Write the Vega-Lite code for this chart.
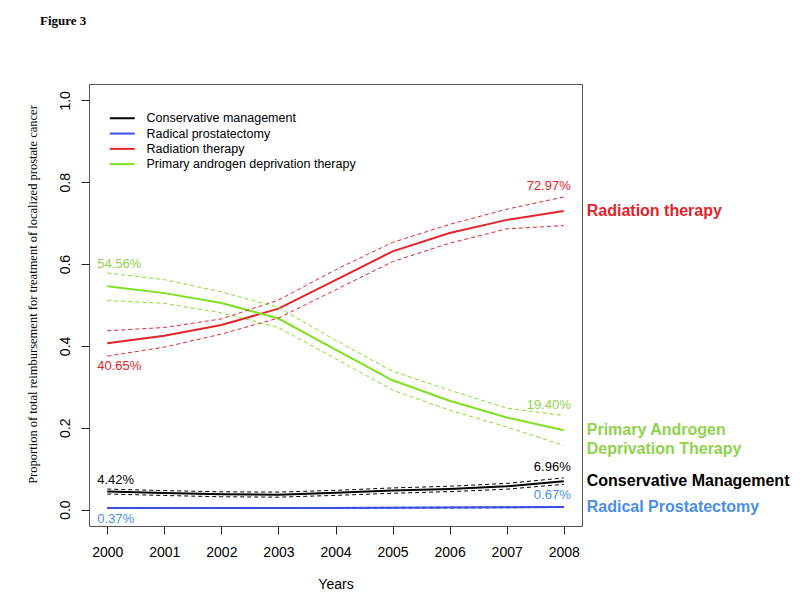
{
  "$schema": "https://vega.github.io/schema/vega-lite/v6.json",
  "width": 493,
  "height": 442,
  "autosize": {"type": "none"},
  "padding": {"left": 89, "top": 84, "right": 218, "bottom": 74},
  "background": "white",
  "config": {
    "view": {"stroke": "#555555", "strokeWidth": 1},
    "font": "Liberation Sans"
  },
  "title": {
    "text": "Figure 3",
    "anchor": "start",
    "frame": "group",
    "dx": -49,
    "offset": 56,
    "font": "Liberation Serif",
    "fontSize": 13,
    "fontWeight": "bold",
    "color": "black"
  },
  "datasets": {
    "rates": [
      {"series": "Conservative management", "year": 2000, "est": 0.0442, "lo": 0.0382, "hi": 0.0502},
      {"series": "Conservative management", "year": 2001, "est": 0.0405, "lo": 0.0345, "hi": 0.0465},
      {"series": "Conservative management", "year": 2002, "est": 0.0375, "lo": 0.0315, "hi": 0.0435},
      {"series": "Conservative management", "year": 2003, "est": 0.0365, "lo": 0.0305, "hi": 0.0428},
      {"series": "Conservative management", "year": 2004, "est": 0.0410, "lo": 0.0348, "hi": 0.0472},
      {"series": "Conservative management", "year": 2005, "est": 0.0465, "lo": 0.0400, "hi": 0.0530},
      {"series": "Conservative management", "year": 2006, "est": 0.0505, "lo": 0.0440, "hi": 0.0572},
      {"series": "Conservative management", "year": 2007, "est": 0.0570, "lo": 0.0500, "hi": 0.0640},
      {"series": "Conservative management", "year": 2008, "est": 0.0696, "lo": 0.0618, "hi": 0.0775},
      {"series": "Radical prostatectomy", "year": 2000, "est": 0.0037, "lo": 0.0025, "hi": 0.0049},
      {"series": "Radical prostatectomy", "year": 2001, "est": 0.0038, "lo": 0.0026, "hi": 0.0050},
      {"series": "Radical prostatectomy", "year": 2002, "est": 0.0039, "lo": 0.0027, "hi": 0.0051},
      {"series": "Radical prostatectomy", "year": 2003, "est": 0.0040, "lo": 0.0028, "hi": 0.0052},
      {"series": "Radical prostatectomy", "year": 2004, "est": 0.0042, "lo": 0.0030, "hi": 0.0054},
      {"series": "Radical prostatectomy", "year": 2005, "est": 0.0045, "lo": 0.0033, "hi": 0.0057},
      {"series": "Radical prostatectomy", "year": 2006, "est": 0.0050, "lo": 0.0037, "hi": 0.0063},
      {"series": "Radical prostatectomy", "year": 2007, "est": 0.0057, "lo": 0.0044, "hi": 0.0070},
      {"series": "Radical prostatectomy", "year": 2008, "est": 0.0067, "lo": 0.0054, "hi": 0.0080},
      {"series": "Radiation therapy", "year": 2000, "est": 0.4065, "lo": 0.375, "hi": 0.437},
      {"series": "Radiation therapy", "year": 2001, "est": 0.425, "lo": 0.397, "hi": 0.445},
      {"series": "Radiation therapy", "year": 2002, "est": 0.451, "lo": 0.429, "hi": 0.466},
      {"series": "Radiation therapy", "year": 2003, "est": 0.491, "lo": 0.468, "hi": 0.512},
      {"series": "Radiation therapy", "year": 2004, "est": 0.561, "lo": 0.537, "hi": 0.586},
      {"series": "Radiation therapy", "year": 2005, "est": 0.631, "lo": 0.606, "hi": 0.653},
      {"series": "Radiation therapy", "year": 2006, "est": 0.676, "lo": 0.651, "hi": 0.697},
      {"series": "Radiation therapy", "year": 2007, "est": 0.708, "lo": 0.686, "hi": 0.734},
      {"series": "Radiation therapy", "year": 2008, "est": 0.7297, "lo": 0.694, "hi": 0.764},
      {"series": "Primary androgen deprivation therapy", "year": 2000, "est": 0.5456, "lo": 0.511, "hi": 0.578},
      {"series": "Primary androgen deprivation therapy", "year": 2001, "est": 0.529, "lo": 0.504, "hi": 0.562},
      {"series": "Primary androgen deprivation therapy", "year": 2002, "est": 0.505, "lo": 0.481, "hi": 0.532},
      {"series": "Primary androgen deprivation therapy", "year": 2003, "est": 0.467, "lo": 0.445, "hi": 0.494},
      {"series": "Primary androgen deprivation therapy", "year": 2004, "est": 0.391, "lo": 0.369, "hi": 0.414},
      {"series": "Primary androgen deprivation therapy", "year": 2005, "est": 0.316, "lo": 0.292, "hi": 0.338},
      {"series": "Primary androgen deprivation therapy", "year": 2006, "est": 0.266, "lo": 0.243, "hi": 0.292},
      {"series": "Primary androgen deprivation therapy", "year": 2007, "est": 0.225, "lo": 0.202, "hi": 0.248},
      {"series": "Primary androgen deprivation therapy", "year": 2008, "est": 0.1940, "lo": 0.157, "hi": 0.230}
    ],
    "ends": [
      {"series": "Conservative management", "label": "Conservative Management"},
      {"series": "Radical prostatectomy", "label": "Radical Prostatectomy"},
      {"series": "Radiation therapy", "label": "Radiation therapy"},
      {"series": "Primary androgen deprivation therapy", "label": "Primary Androgen\nDeprivation Therapy"}
    ]
  },
  "data": {"name": "rates"},
  "encoding": {
    "x": {
      "field": "year",
      "type": "quantitative",
      "scale": {"domain": [1999.68, 2008.32], "nice": false, "zero": false},
      "axis": {
        "title": "Years",
        "values": [2000, 2001, 2002, 2003, 2004, 2005, 2006, 2007, 2008],
        "format": "d",
        "grid": false,
        "domain": false,
        "tickSize": 8,
        "tickColor": "#222222",
        "labelPadding": 11,
        "labelFontSize": 14,
        "labelColor": "black",
        "labelFont": "Liberation Sans",
        "titleFont": "Liberation Sans",
        "titleFontSize": 14,
        "titleFontWeight": "normal",
        "titleColor": "black",
        "titlePadding": 18
      }
    }
  },
  "layer": [
    {
      "mark": {"type": "line", "strokeWidth": 2},
      "encoding": {
        "y": {
          "field": "est",
          "type": "quantitative",
          "scale": {"domain": [-0.04, 1.04], "nice": false, "zero": false},
          "axis": {
            "title": "Proportion of total  reimbursement for treatment of localized prostate cancer",
            "values": [0, 0.2, 0.4, 0.6, 0.8, 1.0],
            "format": ".1f",
            "grid": false,
            "domain": false,
            "tickSize": 8,
            "tickColor": "#222222",
            "labelAngle": 270,
            "labelAlign": "center",
            "labelBaseline": "bottom",
            "labelPadding": 9,
            "labelFontSize": 14,
            "labelColor": "black",
            "labelFont": "Liberation Sans",
            "titleFont": "Liberation Serif",
            "titleFontSize": 12.5,
            "titleFontWeight": "normal",
            "titleColor": "black",
            "titlePadding": 19,
            "titleY": 210
          }
        },
        "stroke": {
          "field": "series",
          "type": "nominal",
          "scale": {
            "domain": ["Conservative management", "Radical prostatectomy", "Radiation therapy", "Primary androgen deprivation therapy"],
            "range": ["#000000", "#3a4ee4", "#e2242a", "#7ee022"]
          },
          "legend": {
            "title": null,
            "orient": "none",
            "legendX": 27,
            "legendY": 28,
            "padding": 0,
            "symbolType": "M-2.5,0L2.5,0",
            "symbolSize": 100,
            "symbolStrokeWidth": 2,
            "symbolOffset": 0,
            "labelOffset": 18,
            "rowPadding": 2.3,
            "labelFont": "Liberation Sans",
            "labelFontSize": 12.5,
            "labelColor": "black",
            "labelLimit": 400
          }
        }
      }
    },
    {
      "mark": {"type": "line", "strokeWidth": 1, "strokeDash": [4, 3]},
      "encoding": {
        "y": {"field": "lo", "type": "quantitative"},
        "stroke": {"field": "series", "type": "nominal", "legend": null}
      }
    },
    {
      "mark": {"type": "line", "strokeWidth": 1, "strokeDash": [4, 3]},
      "encoding": {
        "y": {"field": "hi", "type": "quantitative"},
        "stroke": {"field": "series", "type": "nominal", "legend": null}
      }
    },
    {
      "transform": [{"filter": "datum.year == 2008"}],
      "mark": {"type": "text", "align": "right", "baseline": "middle", "dx": 7, "dy": -11, "fontSize": 13},
      "encoding": {
        "y": {"field": "hi", "type": "quantitative"},
        "text": {"field": "est", "type": "quantitative", "format": ".2%"},
        "fill": {
          "field": "series",
          "type": "nominal",
          "legend": null,
          "scale": {
            "domain": ["Conservative management", "Radical prostatectomy", "Radiation therapy", "Primary androgen deprivation therapy"],
            "range": ["#000000", "#4a8ee4", "#e2242a", "#8fd24c"]
          }
        }
      }
    },
    {
      "transform": [
        {"filter": "datum.year == 2000"},
        {"filter": {"field": "series", "oneOf": ["Conservative management", "Primary androgen deprivation therapy"]}}
      ],
      "mark": {"type": "text", "align": "left", "baseline": "middle", "dx": -10, "dy": -9, "fontSize": 13},
      "encoding": {
        "y": {"field": "hi", "type": "quantitative"},
        "text": {"field": "est", "type": "quantitative", "format": ".2%"},
        "fill": {"field": "series", "type": "nominal", "legend": null}
      }
    },
    {
      "transform": [
        {"filter": "datum.year == 2000"},
        {"filter": {"field": "series", "oneOf": ["Radical prostatectomy", "Radiation therapy"]}}
      ],
      "mark": {"type": "text", "align": "left", "baseline": "middle", "dx": -10, "dy": 10, "fontSize": 13},
      "encoding": {
        "y": {"field": "lo", "type": "quantitative"},
        "text": {"field": "est", "type": "quantitative", "format": ".2%"},
        "fill": {"field": "series", "type": "nominal", "legend": null}
      }
    },
    {
      "transform": [
        {"filter": "datum.year == 2008"},
        {"lookup": "series", "from": {"data": {"name": "ends"}, "key": "series", "fields": ["label"]}}
      ],
      "mark": {"type": "text", "align": "left", "baseline": "middle", "dx": 23, "fontSize": 16, "fontWeight": "bold", "lineBreak": "\n", "lineHeight": 19},
      "encoding": {
        "y": {"field": "est", "type": "quantitative"},
        "text": {"field": "label", "type": "nominal"},
        "fill": {"field": "series", "type": "nominal", "legend": null}
      }
    }
  ]
}
